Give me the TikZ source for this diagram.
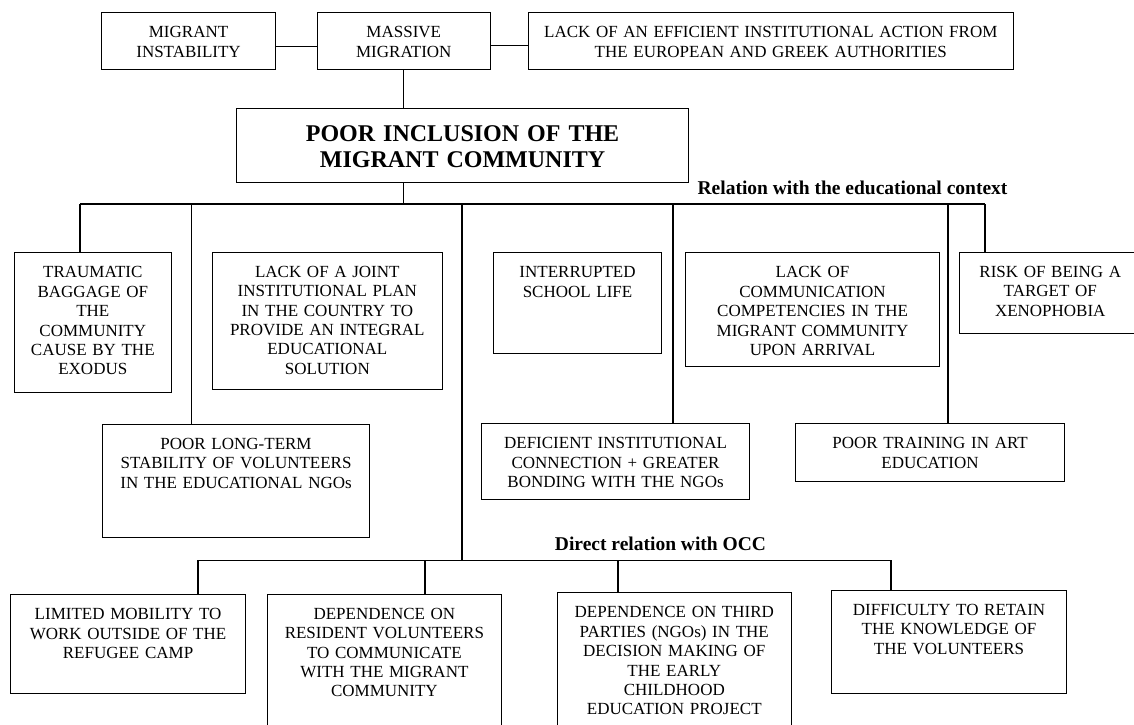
\documentclass[tikz,border=0pt]{standalone}
\usepackage{fontspec}
\setmainfont{Liberation Serif}

\begin{document}
\begin{tikzpicture}[
  x=1pt, y=-1pt,
  box/.style 2 args={rectangle, draw, line width=1.1pt, anchor=north west, align=center, inner sep=0pt,
    text width=#1, text height=25pt, text depth=#2, font=\fontsize{17}{19.4}\selectfont},
  core/.style={rectangle, draw, line width=1.1pt, anchor=north west, align=center, inner sep=0pt,
    text width=452pt, text height=33pt, text depth=41pt, font=\fontsize{24}{26.5}\selectfont\bfseries},
  head/.style={anchor=base, inner sep=0pt, font=\fontsize{19.5}{22}\selectfont\bfseries},
  link/.style={line width=1.1pt}
]
\useasboundingbox (0,0) rectangle (1134,724);

% top row
\node[box={174pt}{32pt}] (instab) at (101,12.3) {MIGRANT\\INSTABILITY};
\node[box={173.5pt}{32pt}] (massive) at (316.5,12.3) {MASSIVE\\MIGRATION};
\node[box={485.5pt}{32pt}] (action) at (527.5,12.3) {LACK OF AN EFFICIENT INSTITUTIONAL ACTION FROM\\THE EUROPEAN AND GREEK AUTHORITIES};
\node[core] (incl) at (236,107.7) {POOR INCLUSION OF THE\\MIGRANT COMMUNITY};

% educational context
\node[head] (eduhead) at (852.5,194.5) {Relation with the educational context};
\node[box={157.5pt}{114.4pt}] (trauma) at (13.5,252.3) {TRAUMATIC\\BAGGAGE OF\\THE\\COMMUNITY\\CAUSE BY THE\\EXODUS};
\node[box={230.5pt}{112.3pt}] (plan) at (211.5,251.7) {LACK OF A JOINT\\INSTITUTIONAL PLAN\\IN THE COUNTRY TO\\PROVIDE AN INTEGRAL\\EDUCATIONAL\\SOLUTION};
\node[box={168pt}{75.4pt}] (school) at (493,252.3) {INTERRUPTED\\SCHOOL LIFE};
\node[box={254pt}{88.4pt}] (comm) at (685,252.3) {LACK OF\\COMMUNICATION\\COMPETENCIES IN THE\\MIGRANT COMMUNITY\\UPON ARRIVAL};
\node[box={182pt}{56pt}] (xeno) at (958.7,252) {RISK OF BEING A\\TARGET OF\\XENOPHOBIA};
\node[box={267pt}{87.7pt}] (stab) at (102,424) {POOR LONG-TERM\\STABILITY OF VOLUNTEERS\\IN THE EDUCATIONAL NGOs};
\node[box={268pt}{50.7pt}] (ngo) at (481,423.3) {DEFICIENT INSTITUTIONAL\\CONNECTION + GREATER\\BONDING WITH THE NGOs};
\node[box={269pt}{32.4pt}] (art) at (795,423.3) {POOR TRAINING IN ART\\EDUCATION};

% direct relation with OCC
\node[head] (occhead) at (660.5,550.5) {Direct relation with OCC};
\node[box={235pt}{73.4pt}] (mobil) at (10,594.3) {LIMITED MOBILITY TO\\WORK OUTSIDE OF THE\\REFUGEE CAMP};
\node[box={234.3pt}{140pt}] (resid) at (266.7,593.7) {DEPENDENCE ON\\RESIDENT VOLUNTEERS\\TO COMMUNICATE\\WITH THE MIGRANT\\COMMUNITY};
\node[box={233.5pt}{140pt}] (third) at (557,592.3) {DEPENDENCE ON THIRD\\PARTIES (NGOs) IN THE\\DECISION MAKING OF\\THE EARLY\\CHILDHOOD\\EDUCATION PROJECT};
\node[box={235pt}{77.7pt}] (retain) at (831,590) {DIFFICULTY TO RETAIN\\THE KNOWLEDGE OF\\THE VOLUNTEERS};

% bus points
\coordinate (eduL) at (80,204);
\coordinate (e2) at (191.6,204);
\coordinate (e3) at (462,204);
\coordinate (e4) at (673,204);
\coordinate (e5) at (948,204);
\coordinate (eduR) at (985,204);
\coordinate (occL) at (198,560.3);
\coordinate (o2) at (425,560.3);
\coordinate (occM) at (462,560.3);
\coordinate (o3) at (618,560.3);
\coordinate (occR) at (891,560.3);

% connectors
\draw[link] ([yshift=-5pt]instab.east) -- ([yshift=-5pt]massive.west);
\draw[link] ([yshift=-4pt]massive.east) -- ([yshift=-4pt]action.west);
\draw[link] (massive.south) -- (massive.south |- incl.north);
\draw[link] (massive.south |- incl.south) -- (massive.south |- eduL);
\draw[link] (eduL) -- (eduR);
\draw[link] (eduL) -- (eduL |- trauma.north);
\draw[link] (e2) -- (e2 |- stab.north);
\draw[link] (e3) -- (occM);
\draw[link] (e4) -- (e4 |- ngo.north);
\draw[link] (e5) -- (e5 |- art.north);
\draw[link] (eduR) -- (eduR |- xeno.north);
\draw[link] (occL) -- (occR);
\draw[link] (occL) -- (occL |- mobil.north);
\draw[link] (o2) -- (o2 |- resid.north);
\draw[link] (o3) -- (o3 |- third.north);
\draw[link] (occR) -- (occR |- retain.north);
\end{tikzpicture}
\end{document}
